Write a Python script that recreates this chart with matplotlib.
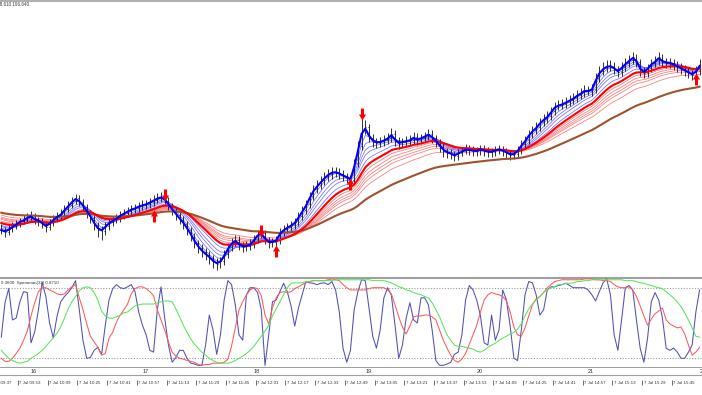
import numpy as np
import matplotlib
matplotlib.use("Agg")
import matplotlib.pyplot as plt
from matplotlib.collections import LineCollection
from matplotlib.path import Path

W, H = 702, 395

# 2 minute bars, bar time in minutes after 09:00
bar_start = 44
bar_step = 2

close = [
    196.440, 196.438, 196.441, 196.444, 196.446, 196.449, 196.450, 196.453, 196.454, 196.450,
    196.449, 196.446, 196.443, 196.447, 196.451, 196.454, 196.456, 196.461, 196.465, 196.469,
    196.472, 196.468, 196.463, 196.457, 196.452, 196.445, 196.440, 196.439, 196.444, 196.448,
    196.450, 196.452, 196.455, 196.457, 196.459, 196.461, 196.462, 196.464, 196.465, 196.466,
    196.468, 196.470, 196.472, 196.473, 196.470, 196.464, 196.459, 196.455, 196.450, 196.446,
    196.440, 196.434, 196.427, 196.422, 196.418, 196.415, 196.412, 196.408, 196.406, 196.409,
    196.416, 196.423, 196.428, 196.430, 196.425, 196.423, 196.424, 196.426, 196.431, 196.436,
    196.437, 196.430, 196.427, 196.428, 196.430, 196.438, 196.441, 196.443, 196.445, 196.448,
    196.454, 196.460, 196.466, 196.474, 196.481, 196.485, 196.489, 196.493, 196.496, 196.498,
    196.498, 196.496, 196.494, 196.492, 196.490, 196.507, 196.524, 196.542, 196.543, 196.532,
    196.528, 196.527, 196.528, 196.530, 196.532, 196.536, 196.529, 196.526, 196.528, 196.529,
    196.530, 196.533, 196.530, 196.532, 196.534, 196.536, 196.532, 196.528, 196.523, 196.519,
    196.517, 196.516, 196.514, 196.517, 196.519, 196.521, 196.520, 196.519, 196.519, 196.521,
    196.519, 196.518, 196.518, 196.520, 196.521, 196.519, 196.517, 196.515, 196.516, 196.520,
    196.526, 196.530, 196.536, 196.540, 196.543, 196.548, 196.551, 196.554, 196.559, 196.564,
    196.565, 196.566, 196.568, 196.570, 196.572, 196.575, 196.577, 196.580, 196.579, 196.581,
    196.592, 196.599, 196.602, 196.604, 196.604, 196.601, 196.598, 196.603, 196.607, 196.610,
    196.613, 196.608, 196.599, 196.597, 196.602, 196.607, 196.609, 196.613, 196.608, 196.607,
    196.607, 196.605, 196.603, 196.601, 196.599, 196.597, 196.595, 196.599, 196.606,
]
high = [
    196.446, 196.443, 196.445, 196.448, 196.450, 196.452, 196.455, 196.457, 196.459, 196.457,
    196.453, 196.452, 196.449, 196.451, 196.455, 196.458, 196.461, 196.465, 196.469, 196.473,
    196.476, 196.475, 196.471, 196.466, 196.460, 196.455, 196.448, 196.444, 196.448, 196.452,
    196.454, 196.456, 196.459, 196.461, 196.463, 196.465, 196.466, 196.468, 196.470, 196.470,
    196.472, 196.475, 196.477, 196.478, 196.476, 196.473, 196.467, 196.462, 196.458, 196.454,
    196.449, 196.443, 196.437, 196.430, 196.426, 196.422, 196.419, 196.415, 196.412, 196.413,
    196.420, 196.427, 196.432, 196.435, 196.434, 196.428, 196.429, 196.431, 196.435, 196.440,
    196.442, 196.440, 196.433, 196.432, 196.434, 196.442, 196.445, 196.447, 196.449, 196.452,
    196.458, 196.464, 196.470, 196.478, 196.485, 196.490, 196.494, 196.498, 196.501, 196.503,
    196.503, 196.502, 196.500, 196.497, 196.495, 196.511, 196.529, 196.552, 196.550, 196.546,
    196.536, 196.532, 196.533, 196.535, 196.537, 196.542, 196.540, 196.533, 196.532, 196.534,
    196.535, 196.538, 196.537, 196.536, 196.538, 196.541, 196.540, 196.535, 196.531, 196.527,
    196.522, 196.521, 196.519, 196.521, 196.523, 196.526, 196.525, 196.524, 196.523, 196.525,
    196.525, 196.523, 196.522, 196.524, 196.525, 196.524, 196.522, 196.520, 196.520, 196.524,
    196.530, 196.534, 196.540, 196.544, 196.548, 196.552, 196.556, 196.559, 196.563, 196.568,
    196.570, 196.571, 196.573, 196.575, 196.577, 196.580, 196.582, 196.585, 196.584, 196.586,
    196.597, 196.604, 196.608, 196.610, 196.610, 196.608, 196.604, 196.608, 196.612, 196.615,
    196.618, 196.616, 196.611, 196.603, 196.606, 196.611, 196.614, 196.618, 196.616, 196.612,
    196.612, 196.611, 196.609, 196.607, 196.605, 196.603, 196.600, 196.604, 196.611,
]
low = [
    196.436, 196.433, 196.435, 196.438, 196.441, 196.443, 196.446, 196.447, 196.450, 196.446,
    196.444, 196.442, 196.438, 196.440, 196.444, 196.448, 196.451, 196.453, 196.458, 196.462,
    196.466, 196.464, 196.459, 196.452, 196.447, 196.440, 196.433, 196.430, 196.435, 196.440,
    196.444, 196.447, 196.448, 196.451, 196.453, 196.455, 196.457, 196.458, 196.460, 196.461,
    196.462, 196.464, 196.467, 196.468, 196.466, 196.460, 196.455, 196.450, 196.446, 196.441,
    196.435, 196.429, 196.422, 196.417, 196.413, 196.410, 196.406, 196.402, 196.400, 196.402,
    196.405, 196.412, 196.419, 196.424, 196.420, 196.418, 196.419, 196.420, 196.422, 196.427,
    196.432, 196.426, 196.422, 196.423, 196.424, 196.426, 196.434, 196.437, 196.439, 196.441,
    196.444, 196.450, 196.456, 196.462, 196.470, 196.477, 196.481, 196.485, 196.489, 196.491,
    196.493, 196.491, 196.489, 196.487, 196.484, 196.486, 196.503, 196.520, 196.536, 196.528,
    196.523, 196.522, 196.523, 196.524, 196.526, 196.528, 196.524, 196.521, 196.522, 196.524,
    196.525, 196.526, 196.525, 196.526, 196.528, 196.530, 196.527, 196.523, 196.518, 196.513,
    196.512, 196.511, 196.509, 196.510, 196.514, 196.516, 196.515, 196.514, 196.514, 196.515,
    196.514, 196.513, 196.513, 196.514, 196.516, 196.514, 196.512, 196.510, 196.511, 196.512,
    196.516, 196.522, 196.526, 196.532, 196.536, 196.539, 196.544, 196.547, 196.550, 196.555,
    196.560, 196.561, 196.562, 196.564, 196.566, 196.568, 196.571, 196.573, 196.575, 196.574,
    196.577, 196.588, 196.595, 196.598, 196.599, 196.596, 196.593, 196.594, 196.599, 196.603,
    196.606, 196.603, 196.594, 196.592, 196.593, 196.598, 196.603, 196.605, 196.603, 196.602,
    196.602, 196.600, 196.598, 196.596, 196.594, 196.592, 196.590, 196.591, 196.595,
]

# guppy ribbons (periods in M1 bars) and their values at the left edge
blue_periods = [3, 6, 10, 14, 18, 24]
blue_start = [196.440, 196.441, 196.443, 196.445, 196.446, 196.448]
red_periods = [30, 35, 40, 45, 50, 60]
red_start = [196.448, 196.450, 196.452, 196.453, 196.454, 196.456]
trend_period = 100
trend_start = 196.458

# signal arrows
signal_bar = [41, 44, 70, 74, 94, 97, 187]
signal_price = [196.454, 196.475, 196.439, 196.419, 196.486, 196.556, 196.591]
signal_up = [True, False, False, True, True, False, True]

spearman_fast = [
    -0.32, 0.46, 0.78, 0.07, 0.11, 0.48, 0.71, 0.69, -0.45, -0.2,
    0.3, 0.92, 0.6, 0.0, -0.34, 0.15, 0.48, 0.6, 0.69, 0.8,
    0.96, 0.3, -0.4, -0.8, -0.78, -0.62, -0.55, -0.71, -0.05, 0.52,
    0.78, 0.87, 0.8, 0.78, 0.82, 0.87, 0.71, 0.25, -0.05, -0.27,
    -0.62, -0.66, 0.3, 0.82, 0.11, -0.5, -0.89, -0.78, -0.62, -0.62,
    -0.8, -0.91, -0.93, -0.96, -0.96, -0.5, 0.18, -0.16, -0.71, -0.27,
    0.52, 0.96, 0.87, 0.41, -0.27, -0.39, 0.64, 0.8, 0.8, 0.69,
    0.3, -0.96, -0.27, 0.48, 0.52, 0.71, 0.9, 0.71, 0.39, -0.07,
    0.34, 0.64, 0.94, 0.91, 0.9, 0.87, 0.9, 0.91, 0.87, 0.94,
    0.75, 0.25, -0.57, -0.89, -0.62, 0.3, 0.71, 0.98, 0.96, 0.34,
    -0.3, -0.57, -0.16, 0.57, 0.8, 0.64, -0.05, -0.8, -0.5, 0.11,
    0.46, 0.07, 0.0, 0.57, 0.57, 0.41, -0.16, -0.85, -0.96, -0.96,
    -0.93, -0.89, -0.71, -0.66, -0.27, 0.52, 0.85, 0.75, 0.52, 0.16,
    -0.45, -0.5, 0.18, -0.39, -0.16, 0.75, 0.52, -0.07, -0.8, -0.85,
    -0.16, 0.64, 0.94, 0.91, 0.64, 0.18, 0.3, 0.75, 0.82, 0.82,
    0.85, 0.87, 0.9, 0.85, 0.8, 0.8, 0.8, 0.8, 0.75, 0.64,
    0.5, 0.71, 0.91, 1.0, 0.64, -0.27, -0.62, 0.07, 0.8, 0.85,
    0.75, 0.07, -0.57, -0.89, -0.34, 0.48, 0.69, 0.52, 0.11, -0.57,
    -0.62, -0.57, -0.66, -0.8, -0.8, -0.66, -0.5, 0.25, 0.75,
]
spearman_mid = [
    -0.8, -0.87, -0.87, -0.8, -0.69, -0.57, -0.39, -0.18, 0.16, 0.46,
    0.71, 0.8, 0.8, 0.75, 0.71, 0.66, 0.64, 0.66, 0.75, 0.82,
    0.87, 0.57, 0.3, -0.02, -0.3, -0.43, -0.55, -0.73, -0.69, -0.34,
    -0.21, 0.02, 0.18, 0.3, 0.43, 0.66, 0.78, 0.82, 0.82, 0.78,
    0.71, 0.62, 0.3, 0.07, -0.16, -0.43, -0.66, -0.75, -0.8, -0.82,
    -0.85, -0.87, -0.89, -0.94, -0.96, -0.94, -0.94, -0.91, -0.91, -0.91,
    -0.89, -0.82, -0.52, -0.11, 0.3, 0.48, 0.64, 0.75, 0.8, 0.78,
    0.62, 0.18, -0.02, 0.34, 0.57, 0.69, 0.71, 0.69, 0.71, 0.78,
    0.82, 0.87, 0.91, 0.94, 0.96, 0.96, 0.96, 0.96, 0.98, 1.0,
    0.98, 0.96, 0.87, 0.8, 0.75, 0.75, 0.75, 0.75, 0.75, 0.78,
    0.8, 0.8, 0.8, 0.8, 0.75, 0.66, 0.41, 0.14, -0.09, -0.25,
    -0.07, 0.14, 0.16, 0.16, 0.18, 0.18, 0.14, 0.07, -0.16, -0.39,
    -0.57, -0.73, -0.85, -0.89, -0.82, -0.69, -0.48, -0.27, -0.05, 0.25,
    0.52, 0.64, 0.69, 0.66, 0.64, 0.6, 0.5, 0.25, -0.09, -0.27,
    -0.3, -0.11, 0.16, 0.41, 0.55, 0.6, 0.69, 0.8, 0.87, 0.94,
    0.96, 0.98, 0.98, 0.98, 0.98, 0.98, 0.98, 1.0, 1.0, 1.0,
    0.98, 0.98, 0.96, 0.96, 0.94, 0.87, 0.82, 0.8, 0.8, 0.82,
    0.75, 0.6, 0.39, 0.16, -0.05, 0.09, 0.21, 0.27, 0.34, 0.07,
    -0.02, -0.07, -0.11, -0.09, -0.25, -0.5, -0.73, -0.66, -0.55,
]
spearman_slow = [
    -0.62, -0.71, -0.8, -0.85, -0.89, -0.91, -0.89, -0.87, -0.8, -0.75,
    -0.69, -0.62, -0.53, -0.43, -0.34, -0.23, -0.09, 0.11, 0.32, 0.48,
    0.6, 0.73, 0.8, 0.82, 0.8, 0.69, 0.52, 0.27, 0.16, 0.11,
    0.11, 0.14, 0.18, 0.23, 0.25, 0.32, 0.39, 0.41, 0.43, 0.43,
    0.43, 0.43, 0.46, 0.48, 0.5, 0.5, 0.48, 0.32, 0.14, -0.05,
    -0.21, -0.36, -0.48, -0.57, -0.66, -0.73, -0.8, -0.85, -0.89, -0.91,
    -0.91, -0.91, -0.89, -0.85, -0.8, -0.75, -0.69, -0.62, -0.53, -0.41,
    -0.3, -0.18, -0.05, 0.16, 0.32, 0.48, 0.64, 0.8, 0.9, 0.91,
    0.91, 0.91, 0.94, 0.94, 0.96, 0.96, 0.96, 0.96, 0.96, 0.96,
    0.98, 0.98, 0.98, 0.98, 0.98, 0.98, 0.98, 0.98, 0.98, 0.98,
    0.96, 0.96, 0.96, 0.96, 0.94, 0.91, 0.87, 0.82, 0.8, 0.75,
    0.73, 0.69, 0.66, 0.64, 0.6, 0.57, 0.46, 0.3, 0.14, -0.07,
    -0.27, -0.39, -0.5, -0.53, -0.53, -0.55, -0.57, -0.59, -0.64, -0.66,
    -0.62, -0.55, -0.5, -0.46, -0.39, -0.34, -0.3, -0.25, -0.21, -0.14,
    -0.02, 0.16, 0.32, 0.43, 0.52, 0.6, 0.69, 0.75, 0.8, 0.82,
    0.87, 0.87, 0.9, 0.9, 0.91, 0.94, 0.94, 0.96, 0.96, 0.98,
    0.98, 0.98, 0.98, 0.98, 0.98, 0.98, 0.98, 0.98, 0.96, 0.96,
    0.96, 0.94, 0.91, 0.9, 0.87, 0.85, 0.82, 0.8, 0.78, 0.71,
    0.64, 0.57, 0.48, 0.37, 0.23, 0.07, -0.11, -0.3, -0.32,
]

hour_labels = ["16", "17", "18", "19", "20", "21", "22"]
hour_minutes = [60, 120, 180, 240, 300, 360, 420]
time_labels = ["7 Jul 09:37", "7 Jul 09:53", "7 Jul 10:09", "7 Jul 10:25", "7 Jul 10:41",
               "7 Jul 10:57", "7 Jul 11:13", "7 Jul 11:29", "7 Jul 11:45", "7 Jul 12:01",
               "7 Jul 12:17", "7 Jul 12:33", "7 Jul 12:49", "7 Jul 13:05", "7 Jul 13:21",
               "7 Jul 13:37", "7 Jul 13:53", "7 Jul 14:09", "7 Jul 14:25", "7 Jul 14:41",
               "7 Jul 14:57", "7 Jul 15:13", "7 Jul 15:29", "7 Jul 15:45"]
time_minutes = [37, 53, 69, 85, 101, 117, 133, 149, 165, 181, 197, 213, 229, 245, 261,
                277, 293, 309, 325, 341, 357, 373, 389, 405]

x_left, x_right = 43.3, 421.3
small_font = "Liberation Sans"


def ema(values, period, start):
    # period given in M1 bars, applied on 2 minute bars
    a = 1 - (1 - 2.0 / (period + 1)) ** bar_step
    out = []
    level = start
    for v in values:
        level = level + a * (v - level)
        out.append(level)
    return out


def px_box(top, bottom):
    return [0, 1 - bottom / H, 1, (bottom - top) / H]


bar_time = bar_start + bar_step * np.arange(len(close))

fig = plt.figure(figsize=(W / 100, H / 100), dpi=100)
ax = fig.add_axes(px_box(1, 272))
ax_osc = fig.add_axes(px_box(278, 368))
ax_time = fig.add_axes(px_box(368, 395))
for a in (ax, ax_osc, ax_time):
    a.set_xlim(x_left, x_right)
    a.set_xticks([])
    a.set_yticks([])
    for s in a.spines.values():
        s.set_visible(False)

# ---- price window
ax.set_ylim(196.398, 196.669)
ax.spines["top"].set_visible(True)
ax.spines["top"].set_color("#a0a0a0")
ax.spines["top"].set_linewidth(1.2)

opens = [close[0]] + close[:-1]
segs = []
for t, o, h, l, c in zip(bar_time, opens, high, low, close):
    segs.append([(t, l), (t, h)])
    segs.append([(t - 0.45, o), (t, o)])
    segs.append([(t, c), (t + 0.45, c)])
ax.add_collection(LineCollection(segs, colors="#111111", linewidths=0.6, zorder=3))

blue_lines = [ema(close, p, s) for p, s in zip(blue_periods, blue_start)]
red_lines = [ema(close, p, s) for p, s in zip(red_periods, red_start)]
trend = ema(close, trend_period, trend_start)

for line in red_lines[1:]:
    ax.plot(bar_time, line, color="#ff7878", lw=0.55, zorder=2)
for line in blue_lines[1:]:
    ax.plot(bar_time, line, color="#7070ff", lw=0.55, zorder=2)
ax.plot(bar_time, trend, color="#a0522d", lw=1.5, zorder=3.5)
ax.plot(bar_time, red_lines[0], color="#ff0000", lw=1.5, zorder=3.6)
ax.plot(bar_time, blue_lines[0], color="#0000ff", lw=1.5, zorder=4)

up_arrow = Path([(-0.25, -1), (0.25, -1), (0.25, 0), (0.6, 0), (0, 1), (-0.6, 0), (-0.25, 0), (-0.25, -1)])
down_arrow = Path([(-0.25, 1), (0.25, 1), (0.25, 0), (0.6, 0), (0, -1), (-0.6, 0), (-0.25, 0), (-0.25, 1)])
for b, p, up in zip(signal_bar, signal_price, signal_up):
    ax.plot(bar_time[b], p, marker=up_arrow if up else down_arrow, ms=8.6,
            color="#ff0000", mew=0, zorder=6)

fig.text(-3 / W, 1 - 5 / H, "98.610 196.640", fontsize=3.3, family=small_font,
         color="#333333", ha="left", va="center")

# ---- spearman window
ax_osc.set_ylim(-1.02, 1.02)
for s in ("top", "bottom"):
    ax_osc.spines[s].set_visible(True)
    ax_osc.spines[s].set_color("#a0a0a0")
    ax_osc.spines[s].set_linewidth(1.5)
for lvl in (0.8, -0.8):
    ax_osc.axhline(lvl, color="#999999", lw=0.8, ls=(0, (1, 1.5)), zorder=1)
ax_osc.plot(bar_time, spearman_fast, color="#5050b4", lw=0.75, zorder=3)
ax_osc.plot(bar_time, spearman_mid, color="#ff5a5a", lw=0.75, zorder=3)
ax_osc.plot(bar_time, spearman_slow, color="#5ae65a", lw=0.75, zorder=3)
fig.text(1 / W, 1 - 283 / H, "0.3600  Spearman(32) 0.8710", fontsize=3.2, family=small_font,
         color="#333333", ha="left", va="center")

# ---- time scale
ax_time.set_ylim(27, 0)
ax_time.axhline(7, color="#a0a0a0", lw=0.8)
for m, lab in zip(hour_minutes, hour_labels):
    ax_time.text(m, 3.7, lab, fontsize=4, family=small_font, color="#333333",
                 ha="left", va="center")
ax_time.vlines(time_minutes, 12, 17, color="#333333", lw=0.5)
for m, lab in zip(time_minutes, time_labels):
    ax_time.text(m + 0.8, 15, lab, fontsize=3.2, family=small_font, color="#333333",
                 ha="left", va="center")

fig.savefig("out.png", dpi=100)
